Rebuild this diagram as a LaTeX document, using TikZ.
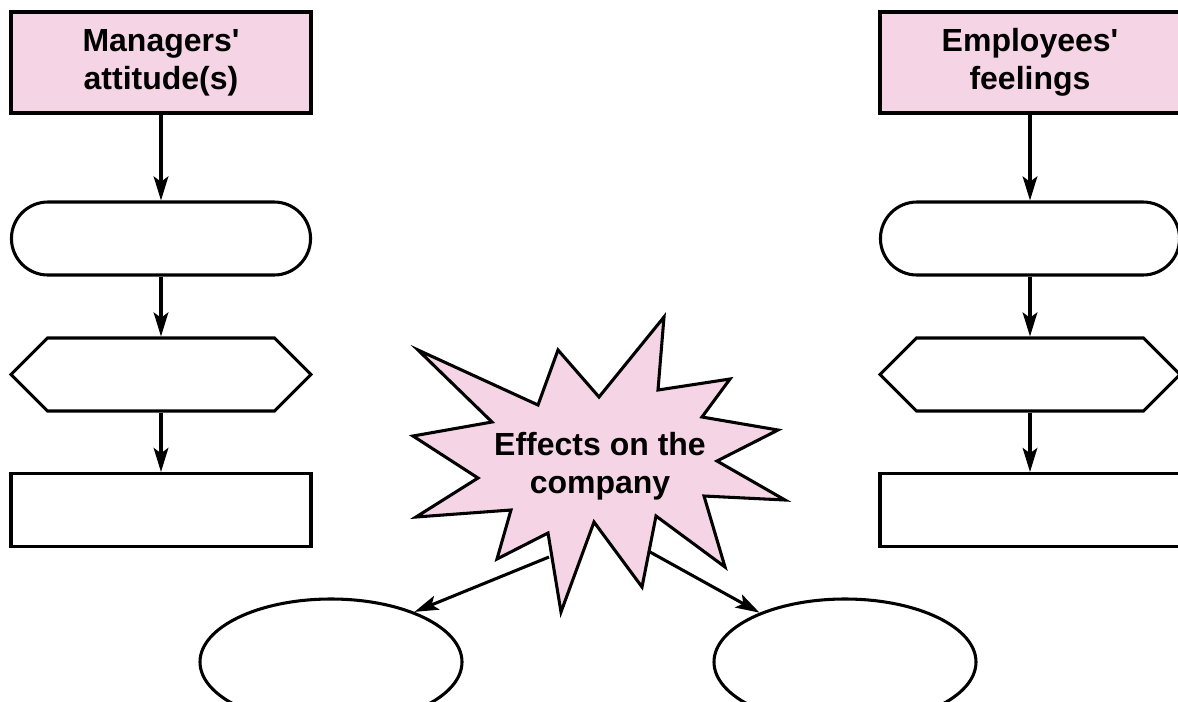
\documentclass[tikz,border=0pt]{standalone}
\usepackage{fontspec}
\setmainfont{Liberation Sans}
\usetikzlibrary{arrows.meta,shapes.misc,shapes.symbols,shapes.geometric}
\definecolor{headPink}{RGB}{245,213,229}

\begin{document}
\begin{tikzpicture}[x=0.75pt,y=-0.75pt,line width=2.3pt,
  boxText/.style={inner sep=0pt, align=center, font=\fontsize{24}{28.5}\selectfont\bfseries},
  headBox/.style={boxText, draw, fill=headPink, minimum width=225pt, minimum height=75.75pt},
  ovalBox/.style={draw, rounded rectangle, minimum width=231pt, minimum height=54.75pt},
  hexBox/.style={draw, signal, signal to=east and west, signal pointer angle=90, minimum width=225pt, minimum height=54.75pt},
  plainBox/.style={draw, minimum width=225pt, minimum height=54.75pt},
  endOval/.style={draw, ellipse, minimum width=196.5pt, minimum height=94.5pt},
  burst/.style={draw, fill=headPink, line join=miter},
  flowArrow/.style={-{Stealth[length=18pt,width=11pt,inset=4pt]}}]
\useasboundingbox (0,0) rectangle (1178,701);
\node[headBox] (mgrHead) at (161,62.5) {Managers\textquotesingle\\attitude(s)};
\node[ovalBox] (mgrOval) at (161,238.5) {};
\node[hexBox] (mgrHex) at (161,374.5) {};
\node[plainBox] (mgrRect) at (161,510) {};
\node[headBox] (empHead) at (1030,62.5) {Employees\textquotesingle\\feelings};
\node[ovalBox] (empOval) at (1030,238.5) {};
\node[hexBox] (empHex) at (1030,374.5) {};
\node[plainBox] (empRect) at (1030,510) {};
\draw[flowArrow] (mgrHead) -- (mgrOval);
\draw[flowArrow] (mgrOval) -- (mgrHex);
\draw[flowArrow] (mgrHex) -- (mgrRect);
\draw[flowArrow] (empHead) -- (empOval);
\draw[flowArrow] (empOval) -- (empHex);
\draw[flowArrow] (empHex) -- (empRect);
\draw[burst] (418,350) -- (538,405) -- (558,350) -- (599,397) -- (664,317) -- (658,390) -- (730,379) -- (702,417) -- (778,430) -- (717,461) -- (785,500) -- (704,496) -- (725,567) -- (656,516) -- (642,587) -- (594,522) -- (561,612) -- (548,533) -- (497,559) -- (511,510) -- (416,517) -- (478,478) -- (413,436) -- (492,422) -- cycle;
\node[boxText] (effects) at (600,466) {Effects on the\\company};
\coordinate (burstL) at (549,557);
\coordinate (burstR) at (650,552);
\node[endOval] (leftEnd) at (331,662) {};
\node[endOval] (rightEnd) at (845,662) {};
\draw[flowArrow] (burstL) -- (leftEnd.31);
\draw[flowArrow] (burstR) -- (rightEnd.150);
\end{tikzpicture}
\end{document}
